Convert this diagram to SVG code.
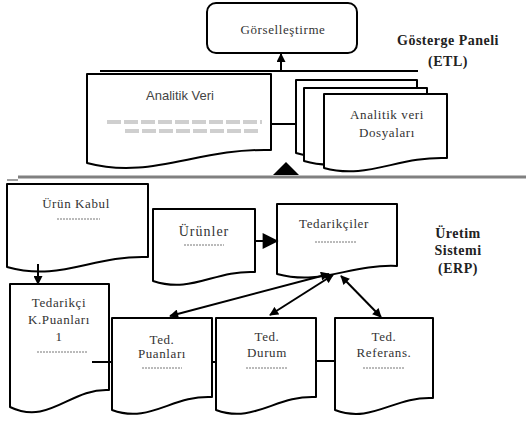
<svg xmlns="http://www.w3.org/2000/svg" width="526" height="421" viewBox="0 0 526 421">
<defs>
<style>
.doc{fill:#fff;stroke:#000;stroke-width:2;stroke-linejoin:round}
.t{font-family:'Liberation Serif','Times New Roman',serif;font-size:13px;letter-spacing:0.6px;fill:#333;text-anchor:middle}
.ts{font-family:'Liberation Sans',Arial,sans-serif;font-size:13px;fill:#444;text-anchor:middle}
.lbl{font-family:'Liberation Serif','Times New Roman',serif;font-size:14px;letter-spacing:0.5px;font-weight:bold;fill:#222;text-anchor:middle}
.ph{stroke:#777;stroke-width:1;stroke-dasharray:2 1}
.blur{stroke:#cfcfcf;stroke-width:4;stroke-dasharray:14 3}
.c{stroke:#000;stroke-width:2;fill:none}
</style>
<marker id="ah" viewBox="0 0 10 10" refX="9" refY="5" markerWidth="10" markerHeight="9" markerUnits="userSpaceOnUse" orient="auto-start-reverse">
<path d="M0,0 L10,5 L0,10 Z" fill="#000"/>
</marker>
<marker id="ahb" viewBox="0 0 10 10" refX="9" refY="5" markerWidth="18" markerHeight="16" markerUnits="userSpaceOnUse" orient="auto">
<path d="M0,0 L10,5 L0,10 Z" fill="#000"/>
</marker>
</defs>

<g id="separator">
<line x1="18" y1="177" x2="526" y2="177" stroke="#808080" stroke-width="3"/>
<line x1="7" y1="180" x2="18" y2="180" stroke="#808080" stroke-width="1.5"/>
</g>

<g id="gorsellestirme">
<rect x="207" y="3" width="150" height="50" rx="9" fill="#fff" stroke="#000" stroke-width="2"/>
<text class="t" x="283" y="34">Görselleştirme</text>
</g>

<g id="label-etl">
<text class="lbl" x="448" y="45">Gösterge Paneli</text>
<text class="lbl" x="448" y="66">(ETL)</text>
</g>

<g id="analitik-veri">
<path class="doc" d="M87,74 H271 V150 C197,148 151,180 87,163 Z"/>
<text class="ts" x="180" y="100">Analitik Veri</text>
<line class="blur" x1="107" y1="122" x2="262" y2="122"/>
<line class="blur" x1="125" y1="131" x2="260" y2="131"/>
</g>

<g id="analitik-veri-dosyalari">
<path class="doc" d="M296,80 H417 V142 C368,140 338,166 296,153 Z"/>
<path class="doc" d="M304,88 H427 V150 C378,148 347,174 304,161 Z"/>
<path class="doc" d="M324,94 H447 V158 C398,156 367,180 324,168 Z"/>
<text class="t" x="387" y="119">Analitik veri</text>
<text class="t" x="387" y="137">Dosyaları</text>
</g>

<g id="urun-kabul">
<path class="doc" d="M7,184 H148 V257 C92,255 61,282 7,267 Z"/>
<text class="t" x="76" y="208">Ürün Kabul</text>
<line class="ph" x1="57" y1="219" x2="100" y2="219"/>
</g>

<g id="urunler">
<path class="doc" d="M153,209 H255 V272 C214,270 192,294 153,281 Z"/>
<text class="t" x="204" y="236" style="font-size:14px;letter-spacing:1px">Ürünler</text>
<line class="ph" x1="184" y1="245" x2="224" y2="245"/>
</g>

<g id="tedarikciler">
<path class="doc" d="M277,204 H397 V266 C349,264 322,286 277,274 Z"/>
<text class="t" x="334" y="228">Tedarikçiler</text>
<line class="ph" x1="315" y1="242" x2="357" y2="242"/>
</g>

<g id="label-erp">
<text class="lbl" x="458" y="238">Üretim</text>
<text class="lbl" x="458" y="255">Sistemi</text>
<text class="lbl" x="458" y="273">(ERP)</text>
</g>

<g id="tedarikci-kpuanlari">
<path class="doc" d="M10,284 H109 V390 C70,388 49,426 10,407 Z"/>
<text class="t" x="59" y="307">Tedarikçi</text>
<text class="t" x="59" y="324">K.Puanları</text>
<text class="t" x="59" y="341">1</text>
<line class="ph" x1="37" y1="352" x2="88" y2="352"/>
</g>

<g id="ted-puanlari">
<path class="doc" d="M112,318 H212 V397 C172,395 150,424 112,410 Z"/>
<text class="t" x="162" y="344">Ted.</text>
<text class="t" x="162" y="358">Puanları</text>
<line class="ph" x1="142" y1="368" x2="182" y2="368"/>
</g>

<g id="ted-durum">
<path class="doc" d="M216,318 H316 V397 C276,395 254,424 216,410 Z"/>
<text class="t" x="267" y="341">Ted.</text>
<text class="t" x="267" y="357">Durum</text>
<line class="ph" x1="246" y1="368" x2="287" y2="368"/>
</g>

<g id="ted-referans">
<path class="doc" d="M335,318 H433 V398 C394,396 372,424 335,410 Z"/>
<text class="t" x="384" y="341">Ted.</text>
<text class="t" x="384" y="357">Referans.</text>
<line class="ph" x1="363" y1="368" x2="404" y2="368"/>
</g>

<g id="connectors">
<line class="c" x1="100" y1="71" x2="418" y2="71"/>
<line class="c" x1="281" y1="70" x2="281" y2="54" marker-end="url(#ah)"/>
<line class="c" x1="271" y1="124" x2="296" y2="124"/>
<polygon points="286,162 273,175 299,175" fill="#000"/>
<line class="c" x1="38" y1="264" x2="38" y2="284" marker-end="url(#ah)"/>
<line class="c" x1="255" y1="241" x2="277" y2="241" marker-end="url(#ahb)"/>
<line class="c" x1="92" y1="362" x2="112" y2="362"/>
<line class="c" x1="212" y1="362" x2="216" y2="362"/>
<line class="c" x1="316" y1="361" x2="335" y2="361" stroke-width="3"/>
<line class="c" x1="170" y1="316" x2="329" y2="274" marker-start="url(#ah)" marker-end="url(#ah)"/>
<line class="c" x1="270" y1="315" x2="333" y2="275" marker-start="url(#ah)" marker-end="url(#ah)"/>
<line class="c" x1="381" y1="317" x2="341" y2="276" marker-start="url(#ah)" marker-end="url(#ah)"/>
</g>
</svg>
